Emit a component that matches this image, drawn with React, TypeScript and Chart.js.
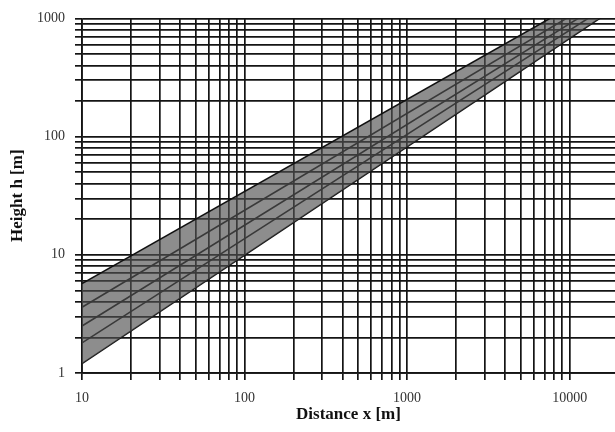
import React, { useEffect, useRef } from "react";
import { Chart, registerables } from "chart.js";

Chart.register(...registerables);

// Axis ranges
const xMin = 10;
const xMax = 19000;
const yMin = 1;
const yMax = 1000;

// Grid / tick values
const xTicks = [
  10, 20, 30, 40, 50, 60, 70, 80, 90,
  100, 200, 300, 400, 500, 600, 700, 800, 900,
  1000, 2000, 3000, 4000, 5000, 6000, 7000, 8000, 9000,
  10000,
];
const yTicks = [
  1, 2, 3, 4, 5, 6, 7, 8, 9,
  10, 20, 30, 40, 50, 60, 70, 80, 90,
  100, 200, 300, 400, 500, 600, 700, 800, 900,
  1000,
];
const xTickLabels = ["10", "100", "1000", "10000"];
const yTickLabels = ["1", "10", "100", "1000"];

// Band boundary and interior lines (distance x in m, height h in m)
const bandX = [10, 19000];
const upperH = [5.7, 2050];
const lowerH = [1.2, 1220];
const line1H = [3.6, 1760];
const line2H = [2.5, 1560];
const line3H = [1.8, 1400];

const xTitle = "Distance x [m]";
const yTitle = "Height h [m]";

const toPts = (hs: number[]) => bandX.map((x, i) => ({ x, y: hs[i] }));

export default function App() {
  const ref = useRef<HTMLCanvasElement | null>(null);

  useEffect(() => {
    if (!ref.current) return;
    const serif = "'Liberation Serif', 'DejaVu Serif', serif";
    const gridColor = "#141414";
    const lineStyle = {
      borderColor: "#111",
      borderWidth: 1.6,
      pointRadius: 0,
      fill: false,
    };
    const chart = new Chart(ref.current, {
      type: "line",
      data: {
        datasets: [
          {
            label: "upper",
            data: toPts(upperH),
            ...lineStyle,
            fill: "+1",
            backgroundColor: "rgba(80,80,80,0.65)",
          },
          { label: "lower", data: toPts(lowerH), ...lineStyle },
          { label: "l1", data: toPts(line1H), ...lineStyle },
          { label: "l2", data: toPts(line2H), ...lineStyle },
          { label: "l3", data: toPts(line3H), ...lineStyle },
        ],
      },
      options: {
        animation: false,
        responsive: true,
        maintainAspectRatio: false,
        layout: { padding: { top: 16, right: 0, left: 0, bottom: 0 } },
        plugins: { legend: { display: false }, tooltip: { enabled: false } },
        scales: {
          x: {
            type: "logarithmic",
            min: xMin,
            max: xMax,
            afterBuildTicks: (scale: any) => {
              scale.ticks = xTicks.map((v) => ({ value: v }));
            },
            afterFit: (scale: any) => {
              scale.height = 59;
            },
            grid: {
              color: gridColor,
              lineWidth: 1.7,
              drawTicks: true,
              tickLength: 7,
              tickColor: gridColor,
            },
            border: { color: gridColor, width: 1.7 },
            ticks: {
              autoSkip: false,
              maxRotation: 0,
              padding: 10,
              color: "#333",
              font: { family: serif, size: 14 },
              callback: (v: any) => {
                const s = String(v);
                return xTickLabels.includes(s) ? s : "";
              },
            },
            title: {
              display: true,
              text: xTitle,
              color: "#111",
              font: { family: serif, size: 17, weight: "bold" },
              padding: { top: 0, bottom: 7 },
            },
          },
          y: {
            type: "logarithmic",
            min: yMin,
            max: yMax,
            afterBuildTicks: (scale: any) => {
              scale.ticks = yTicks.map((v) => ({ value: v }));
            },
            afterFit: (scale: any) => {
              scale.width = 82;
            },
            grid: {
              color: gridColor,
              lineWidth: 1.7,
              drawTicks: true,
              tickLength: 7,
              tickColor: gridColor,
            },
            border: { color: gridColor, width: 1.7 },
            ticks: {
              autoSkip: false,
              padding: 10,
              color: "#333",
              font: { family: serif, size: 14 },
              callback: (v: any) => {
                const s = String(v);
                return yTickLabels.includes(s) ? s : "";
              },
            },
            title: {
              display: true,
              text: yTitle,
              color: "#111",
              font: { family: serif, size: 17, weight: "bold" },
              padding: { top: 7, bottom: 0 },
            },
          },
        },
      },
    } as any);
    return () => chart.destroy();
  }, []);

  return (
    <div style={{ position: "absolute", left: 0, top: 0, width: 615, height: 432, background: "#fff" }}>
      <canvas ref={ref} />
    </div>
  );
}
